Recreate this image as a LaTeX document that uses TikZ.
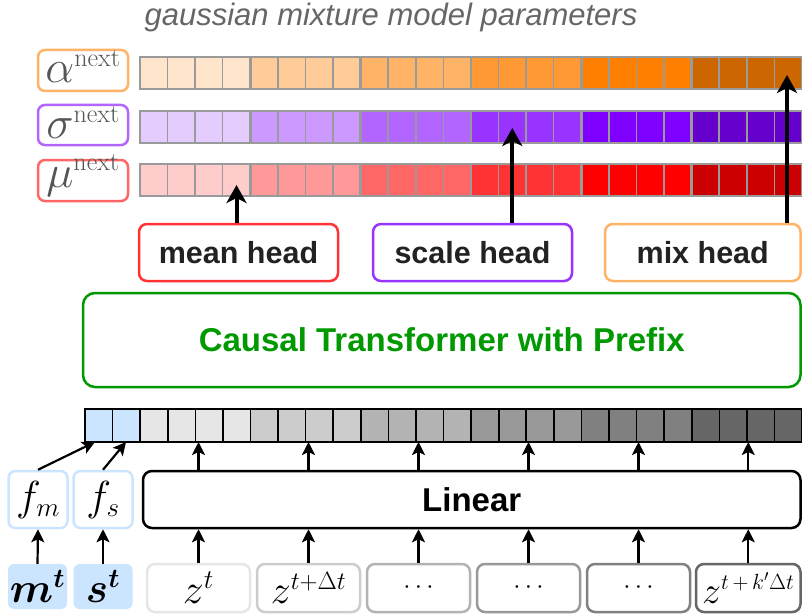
\RequirePackage{fix-cm}
\documentclass[tikz,border=0pt]{standalone}
\usepackage{bm}
\usepackage{fontspec}
\setsansfont{Liberation Sans}
\usetikzlibrary{arrows.meta}
\DeclareMathSizes{46}{46}{26}{18}
\DeclareMathSizes{42}{42}{27}{18}
\DeclareMathSizes{40}{40}{25}{18}
\DeclareMathSizes{38}{38}{22}{16}
\DeclareMathSizes{26}{26}{18}{14}
\definecolor{o1}{HTML}{FFE5CC}\definecolor{o2}{HTML}{FFCC99}\definecolor{o3}{HTML}{FFB366}
\definecolor{o4}{HTML}{FF9933}\definecolor{o5}{HTML}{FF8000}\definecolor{o6}{HTML}{CC6600}
\definecolor{p1}{HTML}{E5CCFF}\definecolor{p2}{HTML}{CC99FF}\definecolor{p3}{HTML}{B266FF}
\definecolor{p4}{HTML}{9933FF}\definecolor{p5}{HTML}{7F00FF}\definecolor{p6}{HTML}{6600CC}
\definecolor{r1}{HTML}{FFCCCC}\definecolor{r2}{HTML}{FF9999}\definecolor{r3}{HTML}{FF6666}
\definecolor{r4}{HTML}{FF3333}\definecolor{r5}{HTML}{FF0000}\definecolor{r6}{HTML}{CC0000}
\definecolor{g1}{HTML}{E6E6E6}\definecolor{g2}{HTML}{CCCCCC}\definecolor{g3}{HTML}{B3B3B3}
\definecolor{g4}{HTML}{999999}\definecolor{g5}{HTML}{808080}\definecolor{g6}{HTML}{666666}
\definecolor{blu}{HTML}{CCE5FF}
\definecolor{cellgray}{HTML}{9A9A9A}
\definecolor{txtgray}{HTML}{555555}
\definecolor{titlegray}{HTML}{666666}
\definecolor{headtxt}{HTML}{222222}
\definecolor{tgreen}{HTML}{009900}
\begin{document}
\begin{tikzpicture}[x=1pt,y=-1pt,
  titletext/.style={font=\sffamily\itshape\fontsize{31}{31}\selectfont, text=titlegray, inner sep=0pt},
  lbl/.style={draw, rounded corners=7pt, line width=2.5pt, minimum width=90pt, inner sep=0pt,
    font=\fontsize{46}{46}\selectfont, text=txtgray},
  cellA/.style={draw=cellgray, line width=1.5pt},
  grpA/.style={draw=cellgray, line width=2.5pt},
  barcell/.style={draw=black, line width=1.6pt},
  head/.style={draw, rounded corners=8pt, line width=2.5pt, minimum width=199pt, minimum height=57pt,
    inner sep=0pt, font=\sffamily\bfseries\fontsize{30.5}{30.5}\selectfont, text=headtxt},
  bigbox/.style={draw, rounded corners=12pt, line width=2.5pt, inner sep=0pt,
    font=\sffamily\bfseries\fontsize{33}{33}\selectfont},
  fbox/.style={draw=blu, fill=white, rounded corners=7pt, line width=2.5pt, minimum width=59pt,
    minimum height=57pt, inner sep=0pt, font=\fontsize{42}{42}\selectfont},
  inbox/.style={fill=blu, rounded corners=6pt, minimum width=59pt, minimum height=45pt,
    inner sep=0pt, font=\fontsize{42}{42}\selectfont},
  tokbox/.style={draw, rounded corners=8pt, line width=2.5pt, minimum width=103pt, minimum height=48pt,
    inner sep=0pt, font=\fontsize{40}{40}\selectfont},
  thickarrow/.style={line width=4pt, -{Stealth[length=18pt,width=20pt,inset=5pt]}},
  thinarrow/.style={line width=2.2pt, -{Stealth[length=13pt,width=13pt,inset=3pt]}}
]
\useasboundingbox (0,0) rectangle (802,615);

% title
\node[titletext, anchor=base] (title) at (391,26) {gaussian mixture model parameters};

% label boxes
\node[lbl, draw=o3, text height=33pt, text depth=8pt, anchor=base] (alab) at (83,83) {$\alpha^{\mathrm{next}}$};
\node[lbl, draw=p3, text height=34pt, text depth=6pt, anchor=base] (slab) at (83,139) {$\sigma^{\mathrm{next}}$};
\node[lbl, draw=r3, text height=27pt, text depth=14pt, anchor=base] (mlab) at (83,187) {$\mu^{\mathrm{next}}$};

% parameter rows
\foreach \pre/\yt in {o/57, p/111, r/164}{
  \foreach \g in {1,...,6}{
    \foreach \c in {0,...,3}{
      \pgfmathsetmacro\xa{140+(4*(\g-1)+\c)*27.58}
      \filldraw[fill=\pre\g, cellA] (\xa,\yt) rectangle ++(27.58,32);
    }
    \pgfmathsetmacro\xg{140+4*(\g-1)*27.58}
    \draw[grpA] (\xg,\yt) rectangle ++(110.32,32);
  }
}

% arrow targets
\coordinate (mutgt) at (236.5,185);
\coordinate (sigtgt) at (512.3,128);
\coordinate (alftgt) at (787,75);

% heads
\node[head, draw=r4] (mean) at (238.5,252.5) {mean head};
\node[head, draw=p4] (scale) at (472.5,252.5) {scale head};
\node[head, draw=o3, minimum width=195.5pt] (mix) at (702.75,252.5) {mix head};

\draw[thickarrow] (mean.north -| mutgt) -- (mutgt);
\draw[thickarrow] (scale.north -| sigtgt) -- (sigtgt);
\draw[thickarrow] (mix.north -| alftgt) -- (alftgt);

% transformer
\node[bigbox, draw=tgreen, text=tgreen, minimum width=717.5pt, minimum height=94pt] (trans) at (441.75,340) {Causal Transformer with Prefix};

% token bar
\filldraw[fill=blu, barcell] (85,409) rectangle ++(27.58,33);
\filldraw[fill=blu, barcell] (112.58,409) rectangle ++(27.58,33);
\foreach \g in {1,...,6}{
  \foreach \c in {0,...,3}{
    \pgfmathsetmacro\xa{140.16+(4*(\g-1)+\c)*27.58}
    \filldraw[fill=g\g, barcell] (\xa,409) rectangle ++(27.58,33);
  }
}
\draw[line width=2.5pt] (85,409) rectangle (802.1,442);
\coordinate (barS) at (0,442);
\coordinate (b1) at (95,442);
\coordinate (b2) at (126,442);

% linear
\node[bigbox, draw=black, text=black, rounded corners=9pt, minimum width=657.5pt, minimum height=57pt] (lin) at (471.75,499.5) {Linear};

% f boxes
\node[fbox] (fm) at (38,499.5) {$f_m$};
\node[fbox] (fs) at (103,499.5) {$f_s$};
\draw[thinarrow] (fm.north) -- (b1);
\draw[thinarrow] (fs.north) -- (b2);

% inputs
\node[inbox] (mt) at (37.5,586.5) {$\bm{m}^{\bm{t}}$};
\node[inbox] (st) at (103,586.5) {$\bm{s}^{\bm{t}}$};
\draw[thinarrow] (mt.north) -- (fm.south);
\draw[thinarrow] (st.north) -- (fs.south);

% tokens
\node[tokbox, draw=g1, font=\fontsize{42}{42}\selectfont] (tok1) at (198.5,588) {$z^{t}$};
\node[tokbox, draw=g2] (tok2) at (308.5,588) {$z^{t+\Delta t}$};
\node[tokbox, draw=g3, font=\fontsize{26}{26}\selectfont] (tok3) at (418.5,588) {$\cdots$};
\node[tokbox, draw=g4, font=\fontsize{26}{26}\selectfont] (tok4) at (528.5,588) {$\cdots$};
\node[tokbox, draw=g5, font=\fontsize{26}{26}\selectfont] (tok5) at (638.5,588) {$\cdots$};
\node[tokbox, draw=g6, minimum width=104.5pt, font=\fontsize{38}{38}\selectfont] (tok6) at (748.25,588) {$z^{t\,+\,k'\Delta t}$};

\foreach \k in {1,...,6}{
  \draw[thinarrow] (tok\k.north) -- (tok\k.north |- lin.south);
  \draw[thinarrow] (tok\k.north |- lin.north) -- (tok\k.north |- barS);
}
\end{tikzpicture}
\end{document}
